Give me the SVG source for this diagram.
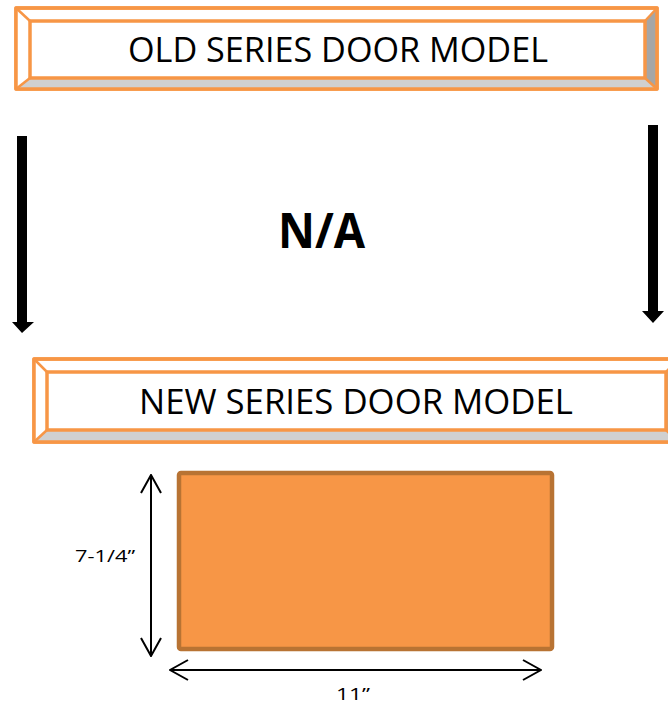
<svg xmlns="http://www.w3.org/2000/svg" width="668" height="704" viewBox="0 0 668 704">
<style>
.frame{stroke:#f79646;stroke-width:3.5;stroke-linejoin:round}
.ln{stroke:#f79646;stroke-width:2.5}
.title{font-family:"Open Sans","Liberation Sans",sans-serif;font-size:35px;fill:#000}
.dim{font-family:"Open Sans","Liberation Sans",sans-serif;font-size:16px;fill:#000}
.dline{stroke:#000;stroke-width:2;fill:none}
</style>
<defs>
<marker id="open" viewBox="0 0 20 22" refX="19" refY="11" markerWidth="20" markerHeight="22" markerUnits="userSpaceOnUse" orient="auto-start-reverse">
<path d="M1,1 L19,11 L1,21" fill="none" stroke="#000" stroke-width="2"/>
</marker>
</defs>
<g id="old-model">
<rect x="16" y="8" width="641" height="81" fill="#ffffff" class="frame"/>
<polygon points="16,8 30,21 30,78 16,89" fill="#ffffff"/>
<polygon points="657,8 645,21 645,78 657,89" fill="#a6a6a6"/>
<polygon points="16,89 30,78 645,78 657,89" fill="#d0d0d0"/>
<rect x="16" y="8" width="641" height="81" fill="none" class="frame"/>
<rect x="30" y="21" width="615" height="57" fill="#ffffff" class="frame"/>
<line x1="16" y1="8" x2="30" y2="21" class="ln"/>
<line x1="657" y1="8" x2="645" y2="21" class="ln"/>
<line x1="16" y1="89" x2="30" y2="78" class="ln"/>
<line x1="657" y1="89" x2="645" y2="78" class="ln"/>
<text x="128" y="62" class="title" textLength="420" lengthAdjust="spacingAndGlyphs">OLD SERIES DOOR MODEL</text>
</g>
<g id="na-label">
<text x="278" y="248" font-family="'Open Sans','Liberation Sans',sans-serif" font-weight="bold" font-size="48" textLength="87" lengthAdjust="spacingAndGlyphs">N/A</text>
</g>
<g id="connectors">
<polygon points="17,136 27,136 27,322 34,322 22,333 12,322 17,322" fill="#000"/>
<polygon points="648,125 658,125 658,311 664,311 653,323 642,311 648,311" fill="#000"/>
</g>
<g id="new-model">
<rect x="34" y="359" width="644" height="83" fill="#ffffff" class="frame"/>
<polygon points="34,359 47,372 47,430 34,442" fill="#ffffff"/>
<polygon points="678,359 666,372 666,430 678,442" fill="#a6a6a6"/>
<polygon points="34,442 47,430 666,430 678,442" fill="#d0d0d0"/>
<rect x="34" y="359" width="644" height="83" fill="none" class="frame"/>
<rect x="47" y="372" width="619" height="58" fill="#ffffff" class="frame"/>
<line x1="34" y1="359" x2="47" y2="372" class="ln"/>
<line x1="678" y1="359" x2="666" y2="372" class="ln"/>
<line x1="34" y1="442" x2="47" y2="430" class="ln"/>
<line x1="678" y1="442" x2="666" y2="430" class="ln"/>
<text x="139" y="414" class="title" textLength="434" lengthAdjust="spacingAndGlyphs">NEW SERIES DOOR MODEL</text>
</g>
<g id="door">
<rect x="179" y="473" width="373" height="176" rx="2" fill="#f79646" stroke="#b87333" stroke-width="4.5"/>
</g>
<g id="dimensions">
<line x1="151" y1="475" x2="151" y2="656" class="dline" marker-start="url(#open)" marker-end="url(#open)"/>
<line x1="170" y1="670" x2="541" y2="670" class="dline" marker-start="url(#open)" marker-end="url(#open)"/>
<text x="75" y="562" class="dim" textLength="60" lengthAdjust="spacingAndGlyphs">7-1/4”</text>
<text x="336" y="700" class="dim" textLength="34" lengthAdjust="spacingAndGlyphs">11”</text>
</g>
</svg>
